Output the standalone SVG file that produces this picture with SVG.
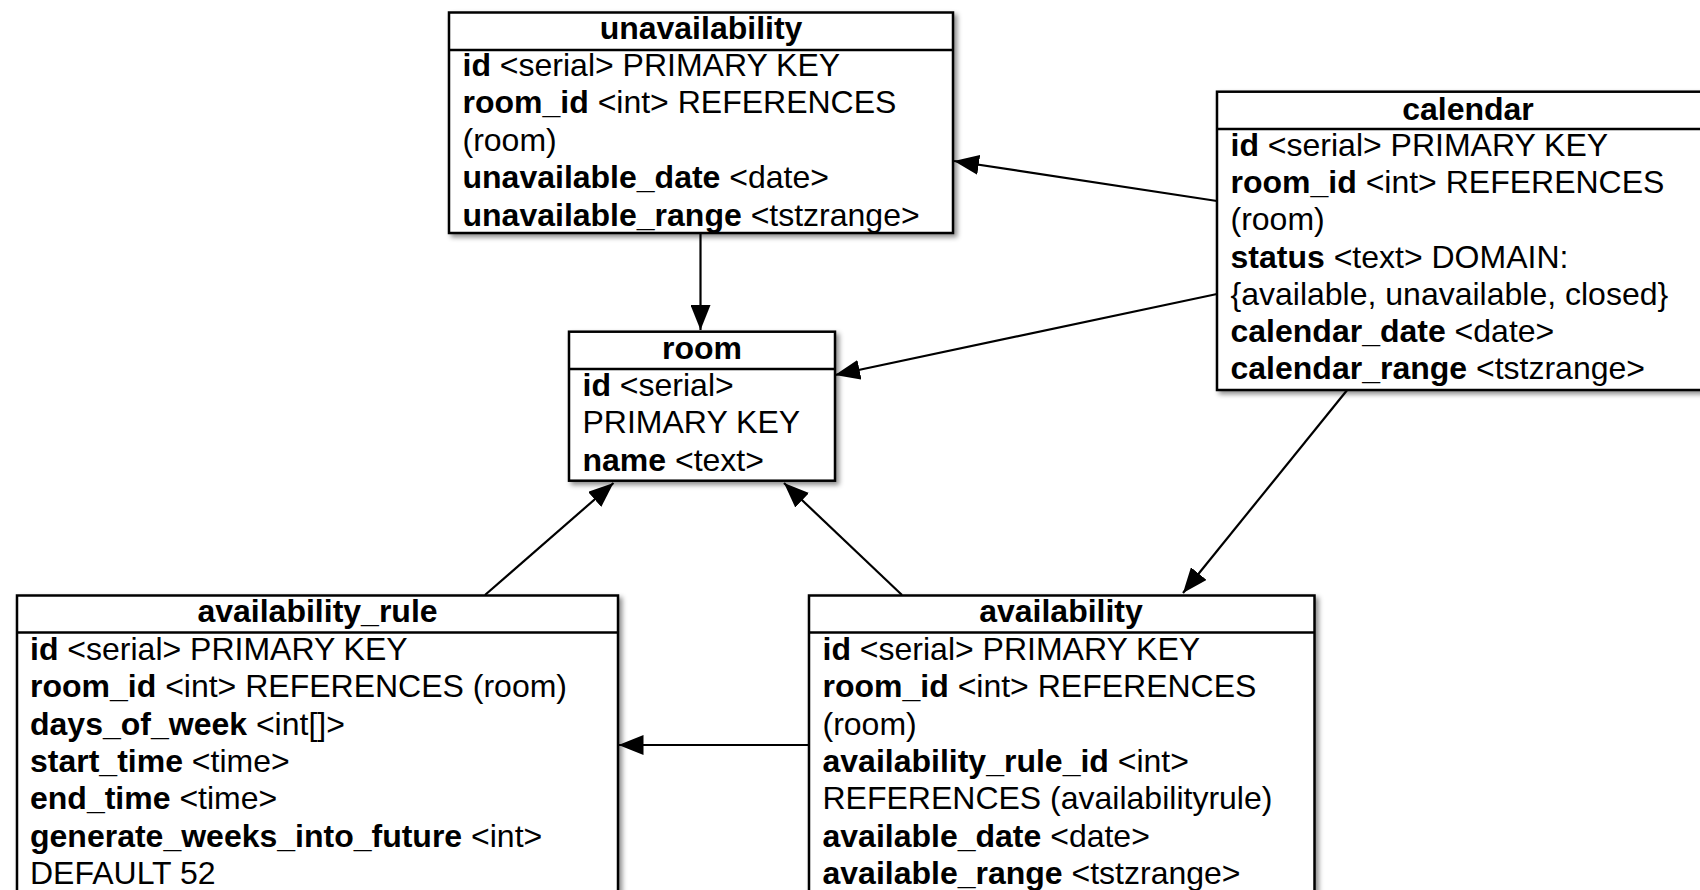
<svg xmlns="http://www.w3.org/2000/svg" width="1700" height="890" viewBox="0 0 1700 890">
<style>
text{font-family:"Liberation Sans",Arial,Helvetica,sans-serif;font-size:32px;fill:#000}
.h{font-weight:bold;text-anchor:middle}
.b{font-weight:bold}
.box{fill:#fff;stroke:#000;stroke-width:2.5;filter:url(#sh)}
.sep{stroke:#000;stroke-width:2.5}
.c{stroke:#000;stroke-width:2.2;fill:none;marker-end:url(#arr)}
</style>
<defs>
<filter id="sh" x="-5%" y="-5%" width="115%" height="115%">
<feDropShadow dx="3" dy="3" stdDeviation="2.5" flood-color="#000" flood-opacity="0.45"/>
</filter>
<marker id="arr" markerUnits="userSpaceOnUse" markerWidth="26" markerHeight="20" refX="25" refY="10" orient="auto" viewBox="0 0 26 20">
<path d="M0,0 L25,10 L0,20 z" fill="#000"/>
</marker>
</defs>
<rect width="1700" height="890" fill="#fff"/>

<g id="connectors">
<line class="c" x1="700.5" y1="233" x2="700.5" y2="330"/>
<line class="c" x1="1217" y1="201" x2="954" y2="161"/>
<line class="c" x1="1217" y1="294" x2="835" y2="375"/>
<line class="c" x1="1348" y1="389" x2="1183" y2="593"/>
<line class="c" x1="902" y1="595" x2="784" y2="483"/>
<line class="c" x1="485" y1="595" x2="613.5" y2="483"/>
<line class="c" x1="809" y1="745" x2="618.5" y2="745"/>
</g>

<g id="unavailability">
<rect class="box" x="449" y="12.5" width="504" height="220.5"/>
<line class="sep" x1="449" y1="50" x2="953" y2="50"/>
<text class="h" x="701" y="38.5">unavailability</text>
<text x="462.5" y="76"><tspan class="b">id</tspan> &lt;serial&gt; PRIMARY KEY</text>
<text x="462.5" y="113.4"><tspan class="b">room_id</tspan> &lt;int&gt; REFERENCES</text>
<text x="462.5" y="150.8">(room)</text>
<text x="462.5" y="188.2"><tspan class="b">unavailable_date</tspan> &lt;date&gt;</text>
<text x="462.5" y="225.6"><tspan class="b">unavailable_range</tspan> &lt;tstzrange&gt;</text>
</g>

<g id="calendar">
<rect class="box" x="1217" y="91.7" width="502" height="298.3"/>
<line class="sep" x1="1217" y1="129" x2="1719" y2="129"/>
<text class="h" x="1468" y="119.5">calendar</text>
<text x="1230.5" y="156"><tspan class="b">id</tspan> &lt;serial&gt; PRIMARY KEY</text>
<text x="1230.5" y="193.2"><tspan class="b">room_id</tspan> &lt;int&gt; REFERENCES</text>
<text x="1230.5" y="230.4">(room)</text>
<text x="1230.5" y="267.6"><tspan class="b">status</tspan> &lt;text&gt; DOMAIN:</text>
<text x="1230.5" y="304.8">{available, unavailable, closed}</text>
<text x="1230.5" y="342"><tspan class="b">calendar_date</tspan> &lt;date&gt;</text>
<text x="1230.5" y="379.2"><tspan class="b">calendar_range</tspan> &lt;tstzrange&gt;</text>
</g>

<g id="room">
<rect class="box" x="569" y="331.7" width="266" height="149"/>
<line class="sep" x1="569" y1="369" x2="835" y2="369"/>
<text class="h" x="702" y="359">room</text>
<text x="582.5" y="395.7"><tspan class="b">id</tspan> &lt;serial&gt;</text>
<text x="582.5" y="433.2">PRIMARY KEY</text>
<text x="582.5" y="470.7"><tspan class="b">name</tspan> &lt;text&gt;</text>
</g>

<g id="availability_rule">
<rect class="box" x="17" y="595.5" width="601" height="310"/>
<line class="sep" x1="17" y1="632.5" x2="618" y2="632.5"/>
<text class="h" x="317.5" y="622">availability_rule</text>
<text x="30" y="659.8"><tspan class="b">id</tspan> &lt;serial&gt; PRIMARY KEY</text>
<text x="30" y="697.2"><tspan class="b">room_id</tspan> &lt;int&gt; REFERENCES (room)</text>
<text x="30" y="734.6"><tspan class="b">days_of_week</tspan> &lt;int[]&gt;</text>
<text x="30" y="772"><tspan class="b">start_time</tspan> &lt;time&gt;</text>
<text x="30" y="809.4"><tspan class="b">end_time</tspan> &lt;time&gt;</text>
<text x="30" y="846.8"><tspan class="b">generate_weeks_into_future</tspan> &lt;int&gt;</text>
<text x="30" y="884.2">DEFAULT 52</text>
</g>

<g id="availability">
<rect class="box" x="809" y="595.5" width="505.5" height="310"/>
<line class="sep" x1="809" y1="632.5" x2="1314.5" y2="632.5"/>
<text class="h" x="1061" y="622">availability</text>
<text x="822.5" y="659.8"><tspan class="b">id</tspan> &lt;serial&gt; PRIMARY KEY</text>
<text x="822.5" y="697.2"><tspan class="b">room_id</tspan> &lt;int&gt; REFERENCES</text>
<text x="822.5" y="734.6">(room)</text>
<text x="822.5" y="772"><tspan class="b">availability_rule_id</tspan> &lt;int&gt;</text>
<text x="822.5" y="809.4">REFERENCES (availabilityrule)</text>
<text x="822.5" y="846.8"><tspan class="b">available_date</tspan> &lt;date&gt;</text>
<text x="822.5" y="884.2"><tspan class="b">available_range</tspan> &lt;tstzrange&gt;</text>
</g>
</svg>
